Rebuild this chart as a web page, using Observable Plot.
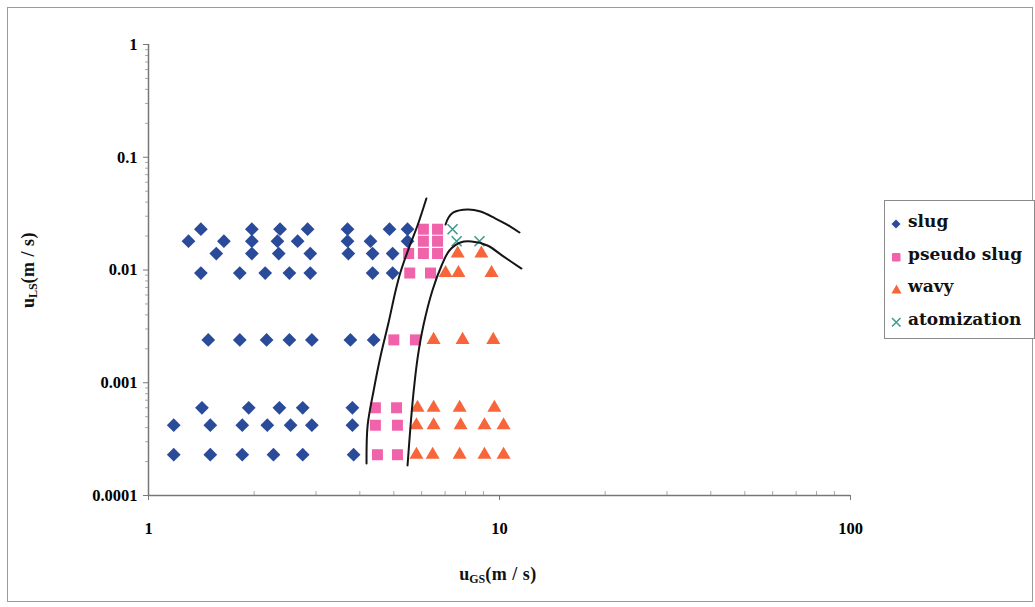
<!DOCTYPE html>
<html><head><meta charset="utf-8">
<script src="https://cdn.jsdelivr.net/npm/d3@7"></script>
<script src="https://cdn.jsdelivr.net/npm/@observablehq/plot@0.6"></script>
<style>
body{margin:0;background:#fff;}
#wrap{position:relative;width:1035px;height:607px;overflow:hidden;background:#fff;}
#border{position:absolute;left:7px;top:7px;width:1026px;height:595px;border:1px solid #9a9a9a;box-sizing:border-box;}
#chart{position:absolute;left:0;top:0;}
#legend{position:absolute;left:884px;top:200px;width:151px;height:139px;border:1px solid #8a8a8a;box-sizing:border-box;background:#fff;font-family:"DejaVu Serif",serif;font-weight:bold;font-size:17px;color:#111;}
.item{position:absolute;left:6px;height:20px;line-height:20px;white-space:nowrap;}
.item svg{position:absolute;left:0;top:5px;}
.item span{position:absolute;left:17px;top:-3px;}
</style></head>
<body>
<div id="wrap"><div id="border"></div><div id="chart"></div><div id="legend"></div></div>
<script>
// liquid superficial velocity rows (m/s)
const yRows = [0.023, 0.018, 0.014, 0.0094, 0.0024, 0.0006, 0.00042, 0.00023];
// gas superficial velocity per row, by regime
const slugUGS = [
  [1.41, 1.97, 2.37, 2.84, 3.69, 4.86, 5.47],
  [1.30, 1.64, 1.97, 2.33, 2.66, 3.69, 4.29, 5.47],
  [1.56, 1.97, 2.35, 2.89, 3.71, 4.35, 4.96],
  [1.41, 1.82, 2.15, 2.52, 2.89, 4.35, 4.96],
  [1.48, 1.82, 2.17, 2.52, 2.92, 3.76, 4.38],
  [1.42, 1.93, 2.36, 2.75, 3.81],
  [1.18, 1.50, 1.85, 2.18, 2.54, 2.92, 3.81],
  [1.18, 1.50, 1.85, 2.27, 2.75, 3.84]
];
const pseudoUGS = [
  [6.07, 6.66],
  [6.07, 6.66],
  [5.51, 6.07, 6.66],
  [5.55, 6.36],
  [5.0, 5.76],
  [4.43, 5.09],
  [4.43, 5.12],
  [4.49, 5.12]
];
const wavyUGS = [
  [],
  [],
  [7.6, 8.88],
  [7.02, 7.64, 9.49],
  [6.49, 7.85, 9.6],
  [5.84, 6.49, 7.7, 9.67],
  [5.80, 6.49, 7.75, 9.06, 10.27],
  [5.80, 6.45, 7.7, 9.06, 10.27]
];
const atomUGS = [[7.35], [7.55, 8.77], [], [], [], [], [], []];

// transition boundaries
const leftBoundaryUGS = [4.18, 4.21, 4.38, 4.58, 4.83, 5.06, 5.22, 5.51, 5.84, 6.19];
const leftBoundaryULS = [0.000192, 0.000418, 0.000854, 0.00171, 0.00342, 0.00658, 0.0095, 0.0155, 0.0248, 0.0431];
const rightBoundaryUGS = [5.47, 5.58, 5.69, 5.84, 6.07, 6.44, 6.84, 7.20, 7.74, 8.32, 9.24, 10.26, 11.55];
const rightBoundaryULS = [0.000185, 0.000418, 0.00082, 0.00164, 0.00322, 0.00658, 0.01096, 0.0149, 0.01754, 0.0179, 0.0165, 0.0132, 0.0103];
const upperBoundaryUGS = [7.02, 7.16, 7.39, 8.11, 8.83, 9.74, 10.74, 11.40];
const upperBoundaryULS = [0.0253, 0.0292, 0.0324, 0.0344, 0.0330, 0.0286, 0.0243, 0.0215];

// axes
const xTicks = [1, 10, 100];
const xTickLabels = ["1", "10", "100"];
const yTicks = [0.0001, 0.001, 0.01, 0.1, 1];
const yTickLabels = ["0.0001", "0.001", "0.01", "0.1", "1"];
const seriesNames = ["slug", "pseudo slug", "wavy", "atomization"];
const seriesColors = ["#2A4A9A", "#F062AA", "#F8653A", "#3D9A8C"];

function flatten(rows) {
  const out = [];
  rows.forEach((xs, i) => xs.forEach(x => out.push({x, y: yRows[i]})));
  return out;
}
const slug = flatten(slugUGS), pseudo = flatten(pseudoUGS), wavy = flatten(wavyUGS), atom = flatten(atomUGS);
const zip = (xs, ys) => xs.map((x, i) => ({x, y: ys[i]}));
const leftB = zip(leftBoundaryUGS, leftBoundaryULS);
const rightB = zip(rightBoundaryUGS, rightBoundaryULS);
const upperB = zip(upperBoundaryUGS, upperBoundaryULS);

const xMinor = d3.scaleLog().domain([1, 100]).ticks().filter(d => !xTicks.includes(d));
const yMinor = d3.scaleLog().domain([0.0001, 1]).ticks().filter(d => !yTicks.includes(d));

const chart = Plot.plot({
  width: 1035, height: 607,
  marginLeft: 148, marginRight: 185, marginTop: 44, marginBottom: 112,
  x: {type: "log", domain: [1, 100], label: null},
  y: {type: "log", domain: [0.0001, 1], label: null},
  style: {fontFamily: "'Liberation Serif', serif", fontWeight: "bold", fontSize: "16.5px", color: "#000", background: "transparent"},
  marks: [
    Plot.axisY({ticks: yMinor, text: null, tickSize: 3, stroke: "#aaa", label: null}),
    Plot.axisY({ticks: yTicks, tickFormat: d => yTickLabels[yTicks.indexOf(d)], tickSize: 5, tickPadding: 6, stroke: "#777", label: null}),
    Plot.axisX({ticks: xMinor, text: null, tickSize: -4, stroke: "#aaa", label: null}),
    Plot.axisX({ticks: xTicks, tickFormat: d => xTickLabels[xTicks.indexOf(d)], tickSize: 5, tickPadding: 22, stroke: "#777", label: null}),
    Plot.ruleX([1], {stroke: "#777", strokeWidth: 1.5}),
    Plot.ruleY([0.0001], {stroke: "#777", strokeWidth: 1.5}),
    Plot.dot(slug, {x: "x", y: "y", symbol: "diamond2", r: 6.2, fill: seriesColors[0], stroke: "none"}),
    Plot.dot(pseudo, {x: "x", y: "y", symbol: "square", r: 6.2, fill: seriesColors[1], stroke: "none"}),
    Plot.dot(wavy, {x: "x", y: "y", symbol: "triangle", r: 5.2, fill: seriesColors[2], stroke: "none"}),
    Plot.dot(atom, {x: "x", y: "y", symbol: "times", r: 4.6, stroke: seriesColors[3], strokeWidth: 1.6}),
    Plot.line(leftB, {x: "x", y: "y", curve: "catmull-rom", stroke: "#151515", strokeWidth: 2}),
    Plot.line(rightB, {x: "x", y: "y", curve: "catmull-rom", stroke: "#151515", strokeWidth: 2}),
    Plot.line(upperB, {x: "x", y: "y", curve: "catmull-rom", stroke: "#151515", strokeWidth: 2})
  ]
});
document.getElementById("chart").appendChild(chart);

// axis titles with subscripts
const svg = d3.select(chart);
function subLabel(g, main, sub, rest) {
  const t = g.append("text").attr("text-anchor", "middle")
    .style("font-family", "'Liberation Serif', serif").style("font-weight", "bold").style("font-size", "18px").attr("fill", "#111");
  t.append("tspan").text(main);
  t.append("tspan").text(sub).style("font-size", "12px").attr("dy", 3);
  t.append("tspan").text(rest).attr("dy", -3).attr("letter-spacing", "0.5");
  return t;
}
subLabel(svg.append("g").attr("transform", "translate(498,580)"), "u", "GS", "(m / s)");
subLabel(svg.append("g").attr("transform", "translate(34,270) rotate(-90)"), "u", "LS", "(m / s)");

// legend
const shapes = [
  '<svg width="10" height="10"><polygon points="5,0.5 9.5,5 5,9.5 0.5,5" fill="' + seriesColors[0] + '"/></svg>',
  '<svg width="10" height="10"><rect x="1" y="1" width="8.5" height="8.5" rx="1" fill="' + seriesColors[1] + '"/></svg>',
  '<svg width="11" height="10"><polygon points="5.5,0.5 10.5,9.5 0.5,9.5" fill="' + seriesColors[2] + '"/></svg>',
  '<svg width="11" height="10"><path d="M1,1L9.5,9.5M9.5,1L1,9.5" stroke="' + seriesColors[3] + '" stroke-width="1.5"/></svg>'
];
const legend = document.getElementById("legend");
seriesNames.forEach((name, i) => {
  const d = document.createElement("div");
  d.className = "item";
  d.style.top = (13 + i * 32.7) + "px";
  d.innerHTML = shapes[i] + "<span>" + name + "</span>";
  legend.appendChild(d);
});
</script>
</body></html>
